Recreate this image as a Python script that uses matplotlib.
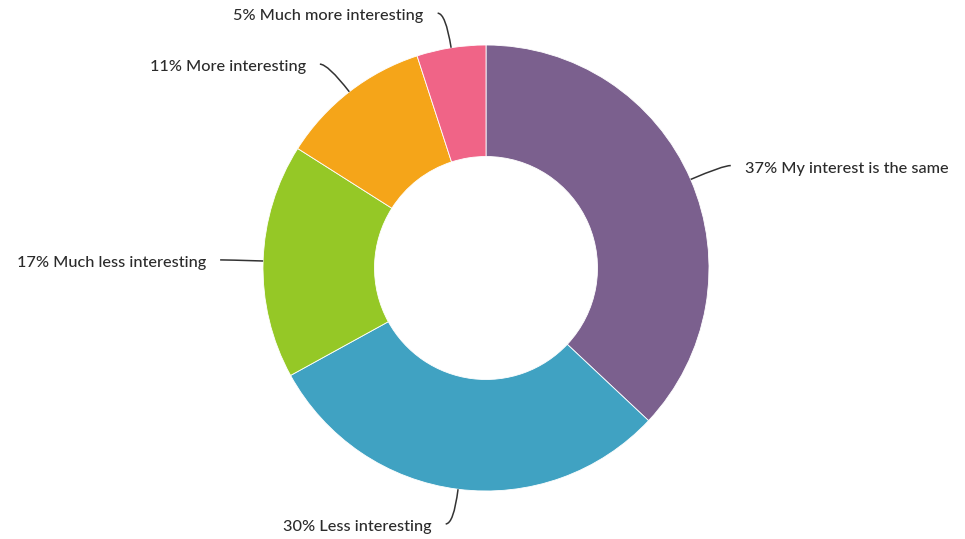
import numpy as np
import matplotlib
matplotlib.use('Agg')
import matplotlib.pyplot as plt
from matplotlib.path import Path
from matplotlib.patches import PathPatch

plt.rcParams['font.family'] = ['Lato', 'DejaVu Sans']

# Dados
categorias = ['My interest is the same', 'Less interesting', 'Much less interesting',
              'More interesting', 'Much more interesting']
valores = [37, 30, 17, 11, 5]
cores = ['#7B608E', '#40A2C2', '#95C826', '#F5A519', '#F06487']

W, H = 965, 539
fig = plt.figure(figsize=(W / 100, H / 100), dpi=100)
ax = fig.add_axes([0, 0, 1, 1])

cx, cy, R = 486, H - 268, 223
wedges, _ = ax.pie(valores, colors=cores, startangle=90, counterclock=False,
                   radius=R, center=(cx, cy),
                   wedgeprops=dict(width=R * 0.5, edgecolor='white', linewidth=0.6))

# o pie redefine os limites, por isso vêm depois
ax.set_xlim(0, W)
ax.set_ylim(0, H)
ax.set_aspect('equal')
ax.axis('off')

# Rótulos com linhas de ligação curvas
dist, cotovelo, folga = 35, 8, 14
for w, cat, v in zip(wedges, categorias, valores):
    ang = np.deg2rad((w.theta1 + w.theta2) / 2)
    dx, dy = np.cos(ang), np.sin(ang)
    p0 = (cx + R * dx, cy + R * dy)
    p1 = (cx + (R + dist) * dx, cy + (R + dist) * dy)
    lado = 1 if dx >= 0 else -1
    p2 = (p1[0] + lado * cotovelo, p1[1])
    caminho = Path([p0, p1, p2], [Path.MOVETO, Path.CURVE3, Path.CURVE3])
    ax.add_patch(PathPatch(caminho, fill=False, edgecolor='#333333', lw=1.1))
    ax.text(p2[0] + lado * folga, p2[1] - 3, f'{v}% {cat}', fontsize=11.7,
            color='#2b2b2b', fontweight='medium',
            ha='left' if lado > 0 else 'right', va='center')

fig.savefig('out.png', dpi=100)
